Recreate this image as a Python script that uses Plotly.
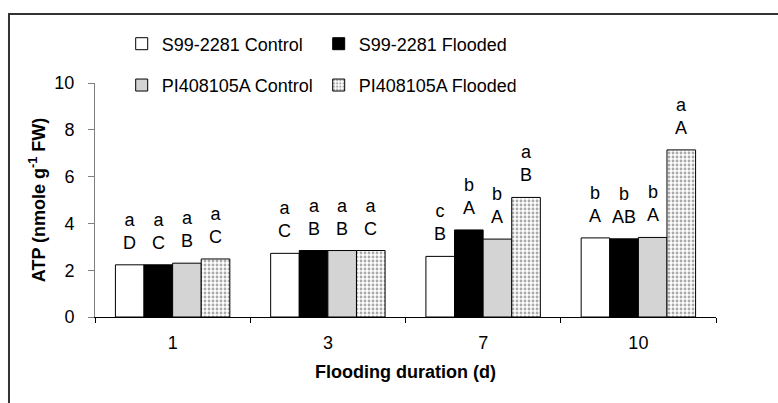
import plotly.graph_objects as go

categories = ["1", "3", "7", "10"]
series_names = ["S99-2281 Control", "S99-2281 Flooded", "PI408105A Control", "PI408105A Flooded"]
s99_control = [2.23, 2.72, 2.59, 3.38]
s99_flooded = [2.23, 2.84, 3.72, 3.34]
pi_control = [2.30, 2.84, 3.33, 3.40]
pi_flooded = [2.48, 2.84, 5.11, 7.14]
# significance letters per series, one per duration
lower_s99_control = ["a", "a", "c", "b"]
lower_s99_flooded = ["a", "a", "b", "b"]
lower_pi_control = ["a", "a", "b", "b"]
lower_pi_flooded = ["a", "a", "a", "a"]
upper_s99_control = ["D", "C", "B", "A"]
upper_s99_flooded = ["C", "B", "A", "AB"]
upper_pi_control = ["B", "B", "A", "A"]
upper_pi_flooded = ["C", "C", "B", "A"]

values = [s99_control, s99_flooded, pi_control, pi_flooded]
letters_lower = [lower_s99_control, lower_s99_flooded, lower_pi_control, lower_pi_flooded]
letters_upper = [upper_s99_control, upper_s99_flooded, upper_pi_control, upper_pi_flooded]
FONT = "Liberation Sans, Arial, sans-serif"
bargap = 0.263

fig = go.Figure()
styles = [
    dict(color="white"),
    dict(color="black"),
    dict(color="#d4d4d4"),
    dict(color="white", pattern=dict(shape=".", fgcolor="#555555", bgcolor="white", size=4, solidity=0.4)),
]
legends = ["legend", "legend", "legend2", "legend2"]
for i in range(4):
    fig.add_trace(go.Bar(
        x=categories, y=values[i], name=series_names[i],
        marker=dict(**styles[i], line=dict(color="black", width=1)),
        legend=legends[i],
    ))

n = 4
w = (1 - bargap) / n
annotations = []
for i in range(n):
    for k in range(len(categories)):
        xpos = k - (1 - bargap) / 2 + (i + 0.5) * w
        annotations.append(dict(
            x=xpos, y=values[i][k], xref="x", yref="y",
            text=letters_lower[i][k] + "<br>" + letters_upper[i][k],
            showarrow=False, yanchor="bottom", yshift=10,
            font=dict(family=FONT, size=18, color="black"),
        ))

fig.update_layout(
    width=778, height=403,
    margin=dict(l=95, r=62, t=83, b=86, autoexpand=False),
    paper_bgcolor="white", plot_bgcolor="white",
    barmode="group", bargap=bargap, bargroupgap=0,
    font=dict(family=FONT, size=18, color="black"),
    annotations=annotations,
    legend=dict(orientation="h", x=0.043, y=1.1667, xanchor="left", yanchor="middle",
                entrywidth=152, entrywidthmode="pixels", font=dict(size=18), bgcolor="rgba(0,0,0,0)"),
    legend2=dict(orientation="h", x=0.043, y=0.99, xanchor="left", yanchor="middle",
                 entrywidth=152, entrywidthmode="pixels", font=dict(size=18), bgcolor="rgba(0,0,0,0)"),
    shapes=[dict(type="rect", xref="paper", yref="paper", x0=-0.1385, x1=1.14, y0=-0.6, y1=1.2949,
                 line=dict(color="#333333", width=2), layer="below")],
)
fig.update_xaxes(
    type="category", showline=True, linecolor="black", linewidth=1,
    ticks="outside", tickson="boundaries", ticklen=5, tickcolor="black",
    showgrid=False, ticklabelstandoff=9,
    title=dict(text="<b>Flooding duration (d)</b>", font=dict(size=18), standoff=13),
    tickfont=dict(size=18),
)
fig.update_yaxes(
    range=[0, 10], dtick=2, showline=True, linecolor="#808080", linewidth=1,
    ticks="outside", ticklen=6, tickcolor="#808080", showgrid=False, zeroline=False,
    ticklabelstandoff=10, tickfont=dict(size=18),
    title=dict(text="<b>ATP (nmole g<sup>-1</sup> FW)</b>", font=dict(size=18), standoff=4),
)
fig.write_html(
    "out.html",
    config={"displayModeBar": False},
    post_script="document.body.style.margin='0';document.documentElement.style.overflow='hidden';",
)
